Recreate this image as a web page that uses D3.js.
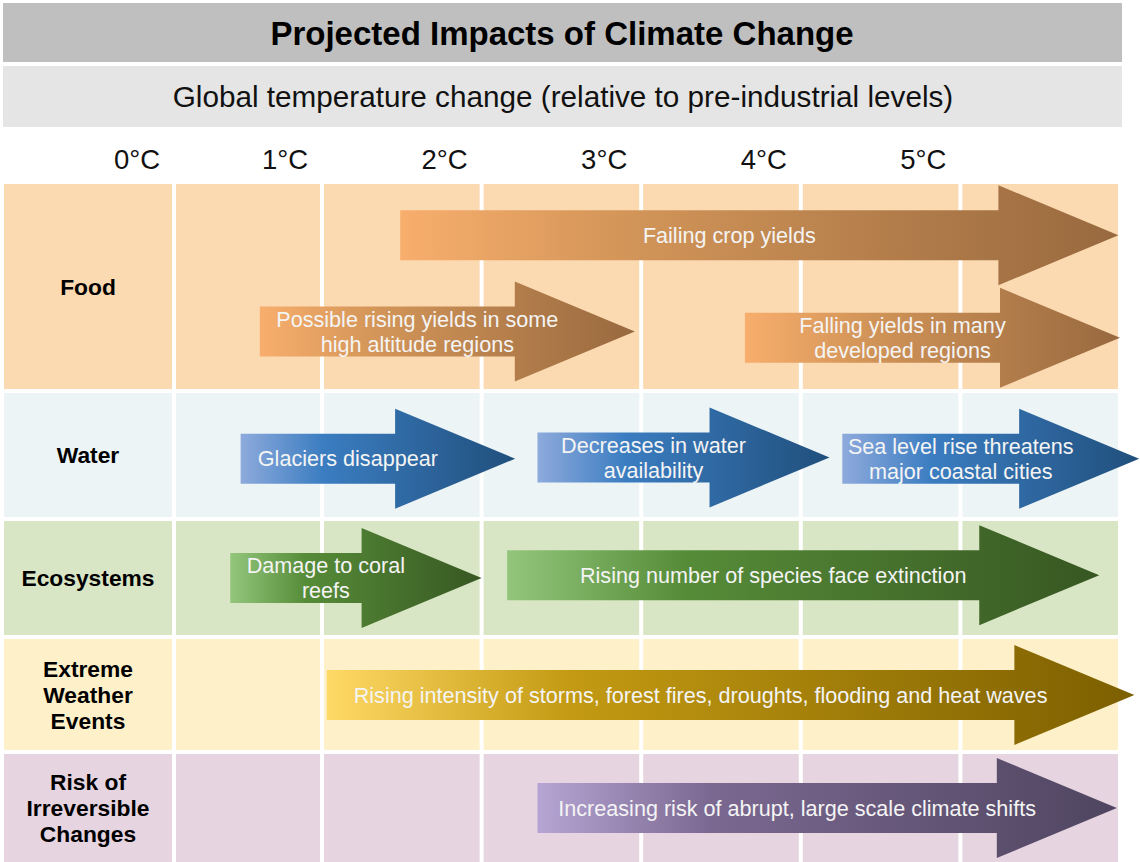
<!DOCTYPE html>
<html>
<head>
<meta charset="UTF-8">
<title>Projected Impacts of Climate Change</title>
<style>
    body {
        margin: 0;
        background: #ffffff;
        font-family: "Liberation Sans", Arial, sans-serif;
    }
    text.title {
        font-size: 33px;
        font-weight: bold;
        fill: #000000;
    }
    text.subtitle {
        font-size: 29.7px;
        fill: #111111;
    }
    text.tick {
        font-size: 27.5px;
        fill: #111111;
    }
    text.rowlabel {
        font-size: 22.8px;
        font-weight: bold;
        fill: #000000;
    }
    text.impact {
        font-size: 21.6px;
        fill: #f4f4f4;
    }
</style>
</head>
<body>
<script src="https://cdn.jsdelivr.net/npm/d3@7"></script>
<script>

    // ---- data ----
    var temps = [0, 1, 2, 3, 4, 5];
    var tickLabels = ["0°C", "1°C", "2°C", "3°C", "4°C", "5°C"];

    var categories = ["Food", "Water", "Ecosystems", "Extreme Weather Events", "Risk of Irreversible Changes"];
    var categoryLines = [["Food"], ["Water"], ["Ecosystems"], ["Extreme", "Weather", "Events"], ["Risk of", "Irreversible", "Changes"]];

    // impacts: label lines, category, start / end in degrees C, vertical position inside the row (0 top .. 1 bottom)
    var impactLabels = [
        ["Failing crop yields"],
        ["Possible rising yields in some", "high altitude regions"],
        ["Falling yields in many", "developed regions"],
        ["Glaciers disappear"],
        ["Decreases in water", "availability"],
        ["Sea level rise threatens", "major coastal cities"],
        ["Damage to coral", "reefs"],
        ["Rising number of species face extinction"],
        ["Rising intensity of storms, forest fires, droughts, flooding and heat waves"],
        ["Increasing risk of abrupt, large scale climate shifts"]
    ];
    var impactCategory = ["Food", "Food", "Food", "Water", "Water", "Water", "Ecosystems", "Ecosystems",
        "Extreme Weather Events", "Risk of Irreversible Changes"];
    var impactStart = [1.49, 0.58, 3.65, 0.45, 2.35, 4.26, 0.38, 2.16, 1.03, 2.35];
    var impactEnd   = [5.99, 2.96, 6.00, 2.21, 4.18, 6.12, 2.00, 5.87, 6.09, 5.98];
    var impactLane  = [0.25, 0.72, 0.75, 0.53, 0.52, 0.53, 0.50, 0.475, 0.505, 0.50];

    // ---- colours ----
    var rowFill = ["#fbd9b1", "#ecf4f6", "#d9e6c5", "#fef0c8", "#e6d4e0"];
    var arrowStops = [
        ["#f8ae6d", "#d49659", "#98693f"],
        ["#8eaadc", "#3b7dc1", "#204f7c"],
        ["#93c67c", "#568c38", "#375722"],
        ["#ffd966", "#c39a12", "#7c5f00"],
        ["#b6a5d4", "#7b6891", "#4f4560"]
    ];

    // ---- layout ----
    var W = 1140, H = 862;
    var tableLeft = 4, tableTop = 184, gap = 4;
    var rowHeights = [205, 124, 114, 111, 108];
    var headLen = 120, headHalf = 50, bodyHalf = 25;

    var x = d3.scaleLinear().domain([0, 1, 6]).range([174, 322, 1120]);

    var rowTop = [];
    rowHeights.reduce(function (acc, h) { rowTop.push(acc); return acc + h + gap; }, tableTop);

    var y = d3.scaleOrdinal().domain(categories).range(rowTop);
    var rowH = d3.scaleOrdinal().domain(categories).range(rowHeights);

    var svg = d3.select("body").append("svg")
        .attr("width", W)
        .attr("height", H);

    var defs = svg.append("defs");
    categories.forEach(function (c, i) {
        var g = defs.append("linearGradient")
            .attr("id", "grad" + i)
            .attr("x1", 0).attr("x2", 1).attr("y1", 0).attr("y2", 0);
        g.selectAll("stop").data(arrowStops[i]).join("stop")
            .attr("offset", function (d, j) { return [0, 0.3, 1][j]; })
            .attr("stop-color", function (d) { return d; });
    });

    // header bands
    svg.append("rect").attr("x", 3).attr("y", 3).attr("width", 1119).attr("height", 59).attr("fill", "#bfbfbf");
    svg.append("text").attr("class", "title")
        .attr("x", 562).attr("y", 45)
        .attr("text-anchor", "middle")
        .text("Projected Impacts of Climate Change");

    svg.append("rect").attr("x", 3).attr("y", 66).attr("width", 1119).attr("height", 61).attr("fill", "#e5e5e5");
    svg.append("text").attr("class", "subtitle")
        .attr("x", 563).attr("y", 107)
        .attr("text-anchor", "middle")
        .text("Global temperature change (relative to pre-industrial levels)");

    // temperature ticks
    svg.selectAll("text.tick").data(temps).join("text")
        .attr("class", "tick")
        .attr("x", function (d) { return x(d) - 37; })
        .attr("y", 169)
        .attr("text-anchor", "middle")
        .text(function (d, i) { return tickLabels[i]; });

    // table cells
    categories.forEach(function (c, i) {
        var row = svg.append("g").attr("class", "row");
        row.append("rect")
            .attr("x", tableLeft)
            .attr("y", y(c))
            .attr("width", x(0) - gap / 2 - tableLeft)
            .attr("height", rowH(c))
            .attr("fill", rowFill[i]);
        row.selectAll("rect.cell").data(temps).join("rect")
            .attr("class", "cell")
            .attr("x", function (t) { return x(t) + gap / 2; })
            .attr("y", y(c))
            .attr("width", function (t) { return Math.min(x(t + 1) - gap / 2, x(6)) - x(t) - gap / 2; })
            .attr("height", rowH(c))
            .attr("fill", rowFill[i]);

        var lines = categoryLines[i];
        var cy = y(c) + rowH(c) / 2;
        row.append("text")
            .attr("class", "rowlabel")
            .attr("text-anchor", "middle")
            .selectAll("tspan").data(lines).join("tspan")
            .attr("x", (tableLeft + x(0) - gap / 2) / 2)
            .attr("y", function (d, j) { return cy + (j - (lines.length - 1) / 2) * 26; })
            .attr("dy", "0.36em")
            .text(function (d) { return d; });
    });

    // impact arrows
    var impacts = impactLabels.map(function (l, i) {
        return {label: l, cat: impactCategory[i], start: impactStart[i], end: impactEnd[i], lane: impactLane[i]};
    });

    var arrows = svg.selectAll("g.impact").data(impacts).join("g").attr("class", "impact");

    arrows.append("path")
        .attr("fill", function (d) { return "url(#grad" + categories.indexOf(d.cat) + ")"; })
        .attr("d", function (d) {
            var x0 = x(d.start), x1 = x(d.end), xh = x1 - headLen;
            var cy = y(d.cat) + rowH(d.cat) * d.lane;
            var p = d3.path();
            p.moveTo(x0, cy - bodyHalf);
            p.lineTo(xh, cy - bodyHalf);
            p.lineTo(xh, cy - headHalf);
            p.lineTo(x1, cy);
            p.lineTo(xh, cy + headHalf);
            p.lineTo(xh, cy + bodyHalf);
            p.lineTo(x0, cy + bodyHalf);
            p.closePath();
            return p.toString();
        });

    arrows.append("text")
        .attr("class", "impact")
        .attr("text-anchor", "middle")
        .each(function (d) {
            var cx = (x(d.start) + x(d.end)) / 2 - headLen / 4;
            var cy = y(d.cat) + rowH(d.cat) * d.lane;
            d3.select(this).selectAll("tspan").data(d.label).join("tspan")
                .attr("x", cx)
                .attr("y", function (s, j) { return cy + (j - (d.label.length - 1) / 2) * 25; })
                .attr("dy", "0.36em")
                .text(function (s) { return s; });
        });

</script>
</body>
</html>
